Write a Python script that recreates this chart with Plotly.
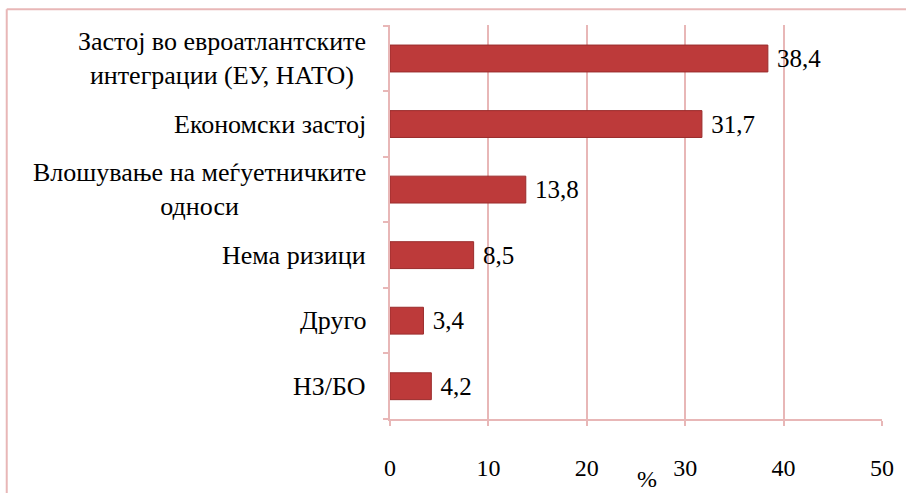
import plotly.graph_objects as go

# categories top to bottom, values in %
categories = [
    "Застој во евроатлантските<br>интеграции (ЕУ, НАТО)",
    "Економски застој",
    "Влошување на меѓуетничките<br>односи",
    "Нема ризици",
    "Друго",
    "НЗ/БО",
]
values = [38.4, 31.7, 13.8, 8.5, 3.4, 4.2]
x_ticks = [0, 10, 20, 30, 40, 50]

pink = "#e8b7b7"
font = "Liberation Serif"
labels = ["\u00a0" + f"{v:.1f}".replace(".", ",") for v in values]

fig = go.Figure()
fig.add_trace(go.Bar(
    y=categories, x=values, orientation="h", width=0.41,
    marker=dict(color="#bd3a3a", line=dict(color="#9a2c2c", width=1)),
    text=labels, textposition="outside", cliponaxis=False,
    outsidetextfont=dict(family=font, size=25, color="black"),
    constraintext="none",
))

# category labels as annotations so multi-line text stays centered
for c in categories:
    fig.add_annotation(
        x=0, y=c, xref="paper", yref="y", xanchor="right", yanchor="middle",
        xshift=-22, text=c, align="center", showarrow=False,
        font=dict(family=font, size=26, color="black"),
    )

fig.add_annotation(
    x=0.522, y=-0.152, xref="paper", yref="paper", text="%", showarrow=False,
    yanchor="middle", font=dict(family=font, size=24, color="black"),
)

# outer chart frame, cut off by the picture on right and bottom
fig.add_shape(type="line", xref="paper", yref="paper",
              x0=-0.779, x1=1.2, y0=1.04, y1=1.04,
              line=dict(color=pink, width=2))
fig.add_shape(type="line", xref="paper", yref="paper",
              x0=-0.779, x1=-0.779, y0=-0.3, y1=1.04,
              line=dict(color=pink, width=2))

fig.update_xaxes(
    range=[0, 50], tickvals=x_ticks, showgrid=True, gridcolor=pink, gridwidth=1.5,
    showline=True, linecolor=pink, linewidth=1.5, zeroline=False,
    ticks="outside", ticklen=5, tickcolor=pink, tickwidth=1.5,
    ticklabelstandoff=21,
    tickfont=dict(family=font, size=24, color="black"),
)
fig.update_yaxes(
    categoryorder="array", categoryarray=categories[::-1],
    showticklabels=False, showgrid=False, zeroline=False,
    showline=True, linecolor=pink, linewidth=1.5,
    ticks="outside", tickson="boundaries", ticklen=5, tickcolor=pink, tickwidth=1.5,
)
fig.update_layout(
    width=906, height=493,
    margin=dict(l=390, r=22, t=25, b=68),
    plot_bgcolor="white", paper_bgcolor="white",
    showlegend=False, bargap=0.59,
)

fig.write_html("out.html", config={"displayModeBar": False},
               post_script="document.body.style.margin='0';")
